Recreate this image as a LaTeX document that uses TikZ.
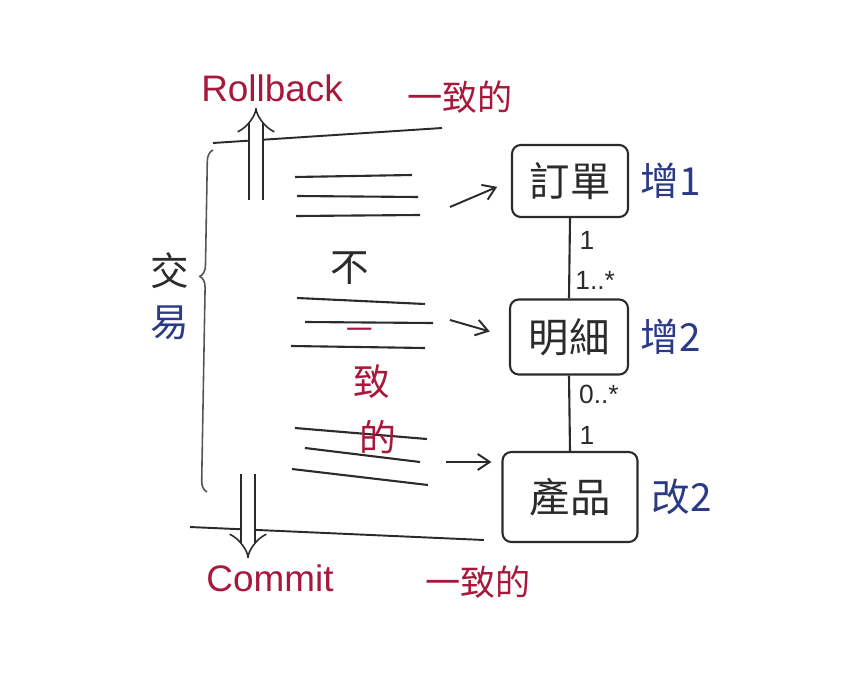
\documentclass[tikz,border=0pt]{standalone}
\usepackage{fontspec}
\setmainfont{Liberation Sans}
\newfontfamily\cjk{Noto Sans CJK TC}
\usepackage{xcolor}
\usetikzlibrary{arrows.meta,positioning,decorations.pathreplacing}
\definecolor{ink}{HTML}{2B2B2B}
\definecolor{penRed}{HTML}{A8183C}
\definecolor{penBlue}{HTML}{2A3A86}
\tikzset{
  every node/.append style = {text=ink},
  % --- entities (right column) ---------------------------------------------
  entity/.style    = {draw=ink, line width=1.2pt, rounded corners=5pt,
                      font=\cjk\fontsize{23}{25}\selectfont, inner sep=2pt},
  assoc/.style     = {draw=ink, line width=1.2pt},
  mult/.style      = {font=\fontsize{15}{16}\selectfont, inner sep=1pt},
  oplbl/.style     = {font=\cjk\fontsize{22}{24}\selectfont, text=penBlue},
  % --- transaction (left column) -------------------------------------------
  stmt/.style      = {draw=ink, line width=1.2pt},
  bound/.style     = {draw=ink, line width=1.1pt},
  txarrow/.style   = {draw=ink, line width=0.9pt, double, double distance=2.4mm,
                      -{Implies[length=3mm]}},
  txbrace/.style   = {draw=ink!80, line width=0.9pt, decorate,
                      decoration={brace, amplitude=2.2mm, aspect=0.63}},
  flow/.style      = {draw=ink, line width=1.1pt,
                      -{Straight Barb[length=2.4mm,width=3.2mm]}},
  % --- labels --------------------------------------------------------------
  state/.style     = {font=\fontsize{21}{22}\selectfont, text=penRed},
  statecjk/.style  = {font=\cjk\fontsize{20}{22}\selectfont, text=penRed},
}

\begin{document}
\begin{tikzpicture}[x=0.02cm, y=-0.02cm,
  vlbl/.style = {font=\cjk\fontsize{22}{29}\selectfont, align=center},
]
\useasboundingbox (0,0) rectangle (864,689);

% ==================== entities ==========================================
\node[entity, minimum width=23.2mm, minimum height=14.4mm] (order)   at (570,181) {訂單};
\node[entity, minimum width=23.6mm, minimum height=15mm]   (detail)  at (569,337) {明細};
\node[entity, minimum width=27mm,   minimum height=18mm]   (product) at (570,497) {產品};

\draw[assoc] (order.south) -- (detail.north)
  node[mult, pos=0.28, right=4pt] (m1) {1}
  node[mult, pos=0.92, anchor=south west, xshift=2pt] (m2) {1..*};
\draw[assoc] (detail.south) -- (product.north)
  node[mult, pos=0.25, right=4pt] (m3) {0..*}
  node[mult, pos=0.80, right=4pt] (m4) {1};

\node[oplbl, right=3pt of order]   (op1) {增1};
\node[oplbl, right=3pt of detail]  (op2) {增2};
\node[oplbl, right=4pt of product] (op3) {改2};

% ==================== transaction ========================================
\node[state] (rollback) at (272,88) {Rollback};
\node[statecjk] (okTop) at (460,97) {一致的};
\node[state] (commit) at (270,578) {Commit};
\node[statecjk] (okBot) at (478,582) {一致的};

\draw[bound] (213,143) -- (442,128);
\draw[bound] (190,527) -- (484,540);

\coordinate (upTail) at (256,200);
\coordinate (dnTail) at (248,474);
\draw[txarrow] (upTail) -- (upTail |- rollback.south);
\draw[txarrow] (dnTail) -- (dnTail |- commit.north);

\draw[txbrace] (207,492) -- (213,150);
\node[vlbl] (tx) at (170,296) {交\\\textcolor{penBlue}{易}};

% three statements per table
\foreach \xa/\ya/\xb/\yb in {295/177/412/175, 297/196/418/197, 296/216/420/215,
                            297/298/425/304, 305/322/433/323, 291/346/425/348,
                            295/428/427/439, 305/448/420/462, 292/469/428/485}{
  \draw[stmt] (\xa,\ya) -- (\xb,\yb);}

% inconsistent in between
\foreach \x/\y/\c/\s/\ch in {350/268/ink/22/不, 360/334/penRed/15/一,
                            372/382/penRed/21/致, 378/437/penRed/21/的}{
  \node[font=\cjk\fontsize{\s}{\s}\selectfont, text=\c] at (\x,\y) {\ch};}

\coordinate (g1) at (450,207);
\coordinate (g2) at (450,320);
\coordinate (g3) at (446,462);
\draw[flow, shorten >=3mm] (g1) -- (order.west);
\draw[flow, shorten >=4mm] (g2) -- (detail.west);
\draw[flow, shorten >=2mm] (g3) -- (g3 -| product.west);

\end{tikzpicture}
\end{document}
